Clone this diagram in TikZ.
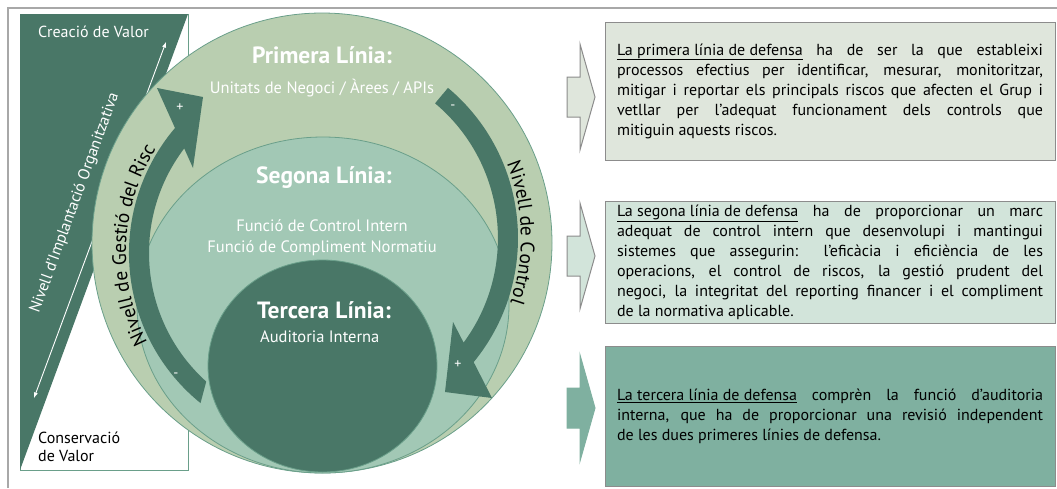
\documentclass[tikz,border=0pt]{standalone}
\usepackage{fontspec}
\setmainfont{PT Sans}
\usepackage{tikz}
\usetikzlibrary{positioning}
\usetikzlibrary{decorations.text}
\definecolor{darkteal}{HTML}{497767}
\definecolor{ringlight}{HTML}{B9CEB0}
\definecolor{ringmid}{HTML}{A2C8B5}
\definecolor{ringline}{HTML}{6A9F8A}
\definecolor{framegrey}{HTML}{A8A8A8}
\definecolor{boxgrey}{HTML}{8C8C8C}
\definecolor{boxone}{HTML}{DFE6DC}
\definecolor{boxtwo}{HTML}{D2E4DA}
\definecolor{boxthree}{HTML}{7FB0A0}
\tikzset{
    frameline/.style = {draw=framegrey, line width=2pt},
    ring/.style = {draw=ringline, line width=0.8pt},
    band/.style = {fill=darkteal},
    title/.style = {text=white, font=\fontsize{23.5}{26}\selectfont\bfseries, inner sep=0pt},
    subtitle/.style = {text=white, font=\fontsize{16.5}{21}\selectfont, inner sep=0pt},
    sign/.style = {text=white, font=\fontsize{14}{14}\selectfont, inner sep=0pt},
    legend/.style = {draw=boxgrey, line width=1pt, minimum height=#1, text width=426pt,
                     inner xsep=12pt, align=justify, font=\fontsize{16}{20}\selectfont},
    valuearrow/.style = {draw=white, line width=0.9pt, <->, >=latex},
    arctext/.style = {decorate, decoration={text along path, text align=center,
                      text={|\fontsize{19.5}{19.5}\selectfont|#1}}}
}
\begin{document}
\begin{tikzpicture}[x=1pt, y=1pt]
  \useasboundingbox (0,0) rectangle (1057,-488);
  % frame and value panel
  \draw [frameline] (8,-488) -- (8,-8) -- (1057,-8);
  \draw [ring] (20,-14) rectangle (188,-470);
  \fill [darkteal] (20,-14) -- (188,-14) -- (20,-470) -- cycle;
  \coordinate (6) at (34,-398);
  \coordinate (7) at (166,-42);
  \draw [valuearrow] (6) -- (7);
  \node [text=white, font=\fontsize{16}{16}\selectfont, rotate=70, inner sep=0pt] (8) at (75,-203) {Nivell d’Implantació Organitzativa};
  \node [text=white, font=\fontsize{16}{18}\selectfont, anchor=west, inner sep=0pt] (9) at (38,-32) {Creació de Valor};
  \node [font=\fontsize{16}{18}\selectfont, anchor=north west, align=left, inner sep=0pt] (10) at (38,-432) {Conservació\\de Valor};

  % the three lines
  \filldraw [ring, fill=ringlight] (322,-243) circle (230);
  \filldraw [ring, fill=ringmid] (323,-305) ellipse [x radius=186, y radius=168];
  \filldraw [ring, fill=darkteal] (322.5,-366) ellipse [x radius=114.5, y radius=106];

  % risk and control arrows
  \fill [band] (322,-253) ++(228:173) arc [start angle=228, end angle=142.8, radius=173]
    -- (193,-168) -- (203,-97) -- (157,-88) -- (175,-128)
    arc [start angle=139.6, end angle=231, radius=193] -- cycle;
  \fill [band] (322,-238) ++(50:196) arc [start angle=50, end angle=-39.3, radius=196]
    -- (492,-398) -- (445,-392) -- (453,-322) -- (463.6,-342.6)
    arc [start angle=-36.4, end angle=50, radius=176] -- cycle;
  \path [arctext={Nivell de Gestió del Risc}] (322,-253) ++(212:196) arc [start angle=212, end angle=143, radius=196];
  \path [arctext={Nivell de Control}] (322,-238) ++(27:199) arc [start angle=27, end angle=-24, radius=199];
  \node [sign] (11) at (180,-108) {+};
  \node [sign] (12) at (176,-375) {-};
  \node [sign] (13) at (453,-107) {-};
  \node [sign] (14) at (458,-365) {+};

  \node [title] (0) at (322,-55) {Primera Línia:};
  \node [subtitle] (1) at (322,-88) {Unitats de Negoci / Àrees / APIs};
  \node [title] (2) at (324,-178) {Segona Línia:};
  \node [subtitle, align=center] (3) at (322,-238) {Funció de Control Intern\\Funció de Compliment Normatiu};
  \node [title, anchor=west] (4) at (257,-310) {Tercera Línia:};
  \node [subtitle, anchor=west] (5) at (260,-337) {Auditoria Interna};

  % block arrows
  \foreach \m/\c/\d in {97/boxone/boxgrey, 256/boxtwo/boxgrey, 408/boxthree/boxthree}
    \filldraw [fill=\c, draw=\d, line width=1pt] (567,{20-\m}) -- (580,{20-\m}) -- (580,{53-\m})
      -- (595,{-\m}) -- (580,{-53-\m}) -- (580,{-20-\m}) -- (567,{-20-\m}) -- cycle;

  % legends
  \node [legend=138pt, fill=boxone] (15) at (830,-91) {\underline{La primera línia de defensa} ha de ser la que estableixi\linebreak processos efectius per identificar, mesurar, monitoritzar,\linebreak mitigar i reportar els principals riscos que afecten el Grup i\linebreak vetllar per l’adequat funcionament dels controls que\linebreak mitiguin aquests riscos.};
  \node [legend=121pt, fill=boxtwo] (16) at (830,-262.5) {\underline{La segona línia de defensa} ha de proporcionar un marc\linebreak adequat de control intern que desenvolupi i mantingui\linebreak sistemes que assegurin: l’eficàcia i eficiència de les\linebreak operacions, el control de riscos, la gestió prudent del\linebreak negoci, la integritat del reporting financer i el compliment\linebreak de la normativa aplicable.};
  \node [legend=140pt, fill=boxthree] (17) at (830,-416) {\underline{La tercera línia de defensa} comprèn la funció d’auditoria\linebreak interna, que ha de proporcionar una revisió independent\linebreak de les dues primeres línies de defensa.};
\end{tikzpicture}
\end{document}
